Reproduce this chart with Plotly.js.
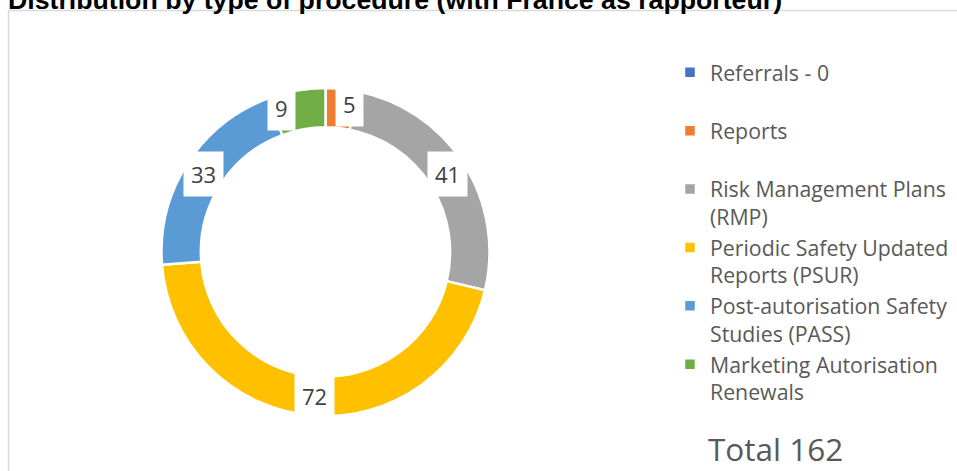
<!DOCTYPE html>
<html>
<head>
<meta charset="utf-8">
<script src="https://cdn.plot.ly/plotly-3.0.1.min.js"></script>
<style>html,body{margin:0;padding:0;background:#fff;}#chart{width:957px;height:471px;}</style>
</head>
<body>
<div id="chart"></div>
<script>
// ---- data ----
const categories = [
  "Referrals - 0",
  "Reports",
  "Risk Management Plans<br>(RMP)",
  "Periodic Safety Updated<br>Reports (PSUR)",
  "Post-autorisation Safety<br>Studies (PASS)",
  "Marketing Autorisation<br>Renewals"
];
const values = [0, 5, 41, 72, 33, 9];
const colors = ["#4472C4", "#ED7D31", "#A5A5A5", "#FFC000", "#5B9BD5", "#70AD47"];
const totalText = "Total 162";
const titleText = "Distribution by type of procedure (with France as rapporteur)";

// ---- geometry (style) ----
const W = 957, H = 471;
const cx = 325.5, cy = 252, R = 164, hole = 0.76;
const font = "'Open Sans', 'Noto Sans', sans-serif";

// legend labels: pad single-line items so every entry takes two lines
const legendLabels = categories.map(c => c.includes("<br>") ? c : c + "<br> ");

const trace = {
  type: "pie",
  labels: legendLabels,
  values: values,
  sort: false,
  direction: "clockwise",
  rotation: 0,
  hole: hole,
  textinfo: "none",
  hoverinfo: "label+value",
  marker: {colors: colors, line: {color: "#ffffff", width: 2.5}},
  domain: {
    x: [(cx - R) / W, (cx + R) / W],
    y: [(H - cy - R) / H, (H - cy + R) / H]
  }
};

// data labels placed at slice mid-angles (computed from values)
const total = values.reduce((a, b) => a + b, 0);
const rMid = R * (1 + hole) / 2;
const shifts = {1: [10, -4], 5: [-19, -2]};
const annotations = [];
let cum = 0;
values.forEach((v, i) => {
  const mid = (cum + v / 2) / total * 2 * Math.PI;
  cum += v;
  if (v === 0) return;
  const s = shifts[i] || [0, 0];
  annotations.push({
    xref: "paper", yref: "paper",
    x: (cx + rMid * Math.sin(mid)) / W,
    y: (H - cy + rMid * Math.cos(mid)) / H,
    text: String(v),
    showarrow: false,
    xanchor: "center", yanchor: "middle",
    xshift: s[0], yshift: -s[1],
    bgcolor: "#ffffff",
    borderpad: 7,
    font: {family: font, size: 22, color: "#404040"}
  });
});
annotations.push({
  xref: "paper", yref: "paper",
  x: 706 / W, y: (H - 448) / H,
  xanchor: "left", yanchor: "middle",
  text: totalText, showarrow: false,
  font: {family: font, size: 31.5, color: "#595959"}
});

const layout = {
  width: W, height: H,
  margin: {l: 0, r: 0, t: 0, b: 0},
  paper_bgcolor: "#ffffff",
  title: {
    text: "<b>" + titleText + "</b>",
    font: {family: "'Liberation Sans', Arial, sans-serif", size: 26.7, color: "#000000"},
    xref: "paper", x: 8 / W, xanchor: "left",
    yref: "container", y: 1, yanchor: "middle"
  },
  showlegend: true,
  legend: {
    x: 670 / W, xanchor: "left",
    y: (H - 52) / H, yanchor: "top",
    valign: "top",
    font: {family: font, size: 21.3, color: "#595959"},
    itemwidth: 30,
    bgcolor: "rgba(0,0,0,0)"
  },
  shapes: [{
    type: "rect", xref: "paper", yref: "paper",
    x0: 8.5 / W, x1: 1.02, y0: -0.02, y1: (H - 10.5) / H,
    line: {color: "#d9d9d9", width: 1.5}, fillcolor: "rgba(0,0,0,0)", layer: "below"
  }],
  annotations: annotations
};

Plotly.newPlot("chart", [trace], layout, {displayModeBar: false, staticPlot: true});
</script>
</body>
</html>
